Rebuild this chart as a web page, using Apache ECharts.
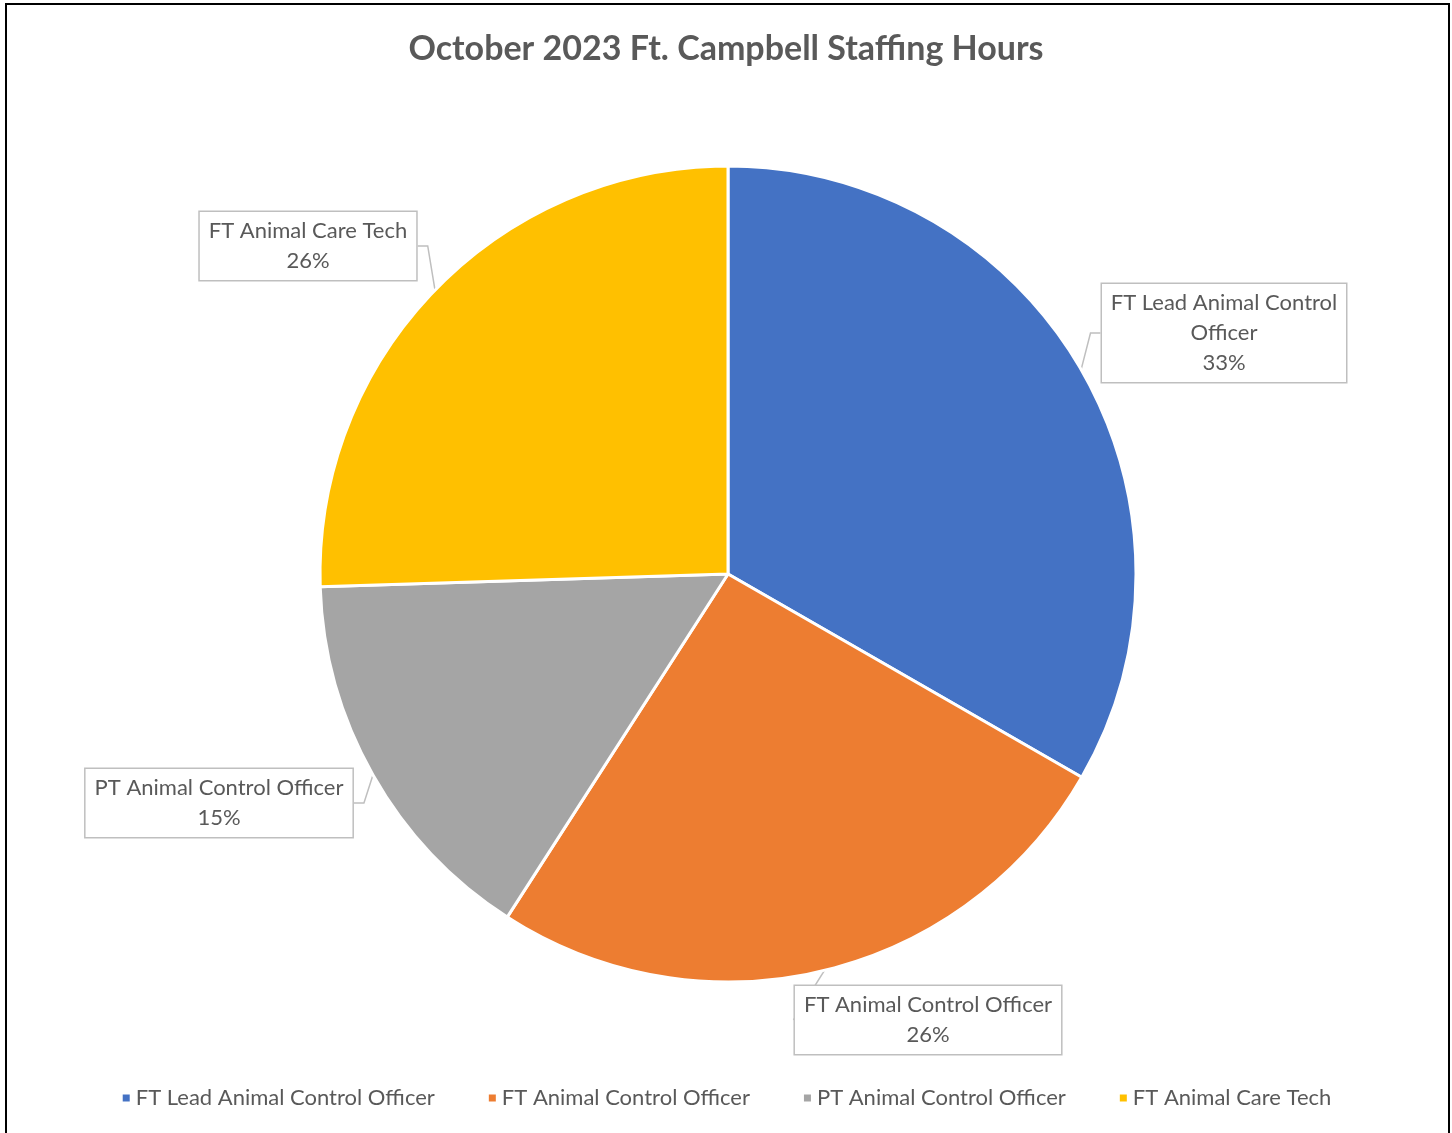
<!DOCTYPE html>
<html>
<head>
<meta charset="utf-8">
<script src="https://cdn.jsdelivr.net/npm/echarts@6/dist/echarts.min.js"></script>
<style>
  html, body { margin: 0; padding: 0; background: #fff; }
  #chart { width: 1452px; height: 1133px; }
  .frame {
    position: absolute; left: 5px; top: 3px; width: 1441px; height: 1140px;
    border: 2px solid #000; pointer-events: none;
  }
</style>
</head>
<body>
<div id="chart"></div>
<div class="frame"></div>
<script>
// 各职位工时占比
var categories = ["FT Lead Animal Control Officer", "FT Animal Control Officer", "PT Animal Control Officer", "FT Animal Care Tech"];
var hours = [333, 258, 154, 255];
var colors = ["#4472c4", "#ed7d31", "#a5a5a5", "#ffc000"];
// 标签框中心位置
var labelPos = [[1224, 333], [928, 1020], [219, 803], [308, 246]];

var chart = echarts.init(document.getElementById("chart"));
var font = "Lato, 'Open Sans', sans-serif";

chart.setOption({
  color: colors,
  title: {
    text: "October 2023 Ft. Campbell Staffing Hours",
    left: "center",
    top: 27,
    textStyle: { fontFamily: font, fontSize: 34, fontWeight: "bold", color: "#595959" },
  },
  legend: {
    bottom: 19,
    left: "center",
    icon: "rect",
    itemWidth: 9,
    itemHeight: 9,
    itemGap: 52,
    textStyle: { fontFamily: font, fontSize: 22, color: "#595959" },
    data: categories,
  },
  series: [
    {
      type: "pie",
      center: [728, 574],
      radius: 408,
      startAngle: 90,
      itemStyle: { borderColor: "#fff", borderWidth: 3 },
      label: {
        show: true,
        fontFamily: font,
        fontSize: 22,
        lineHeight: 30,
        color: "#595959",
        backgroundColor: "#fff",
        borderColor: "#bfbfbf",
        borderWidth: 1.5,
        padding: [4, 9],
        align: "center",
        formatter: function (p) {
          var name = p.name;
          // 长名称把最后一个词换到下一行
          if (name.length > 26) {
            var k = name.lastIndexOf(" ");
            name = name.slice(0, k) + "\n" + name.slice(k + 1);
          }
          return name + "\n" + Math.round(p.percent) + "%";
        },
      },
      labelLine: { show: true, lineStyle: { color: "#bfbfbf", width: 1.5 }, length: 10, length2: 10 },
      labelLayout: function (p) {
        var pos = labelPos[p.dataIndex];
        return { x: pos[0], y: pos[1], align: "center", verticalAlign: "middle" };
      },
      data: categories.map(function (c, i) {
        var d = { name: c, value: hours[i] };
        if (i === 0) d.label = { width: 228, padding: [4, 8] };
        return d;
      }),
    },
  ],
});
</script>
</body>
</html>
